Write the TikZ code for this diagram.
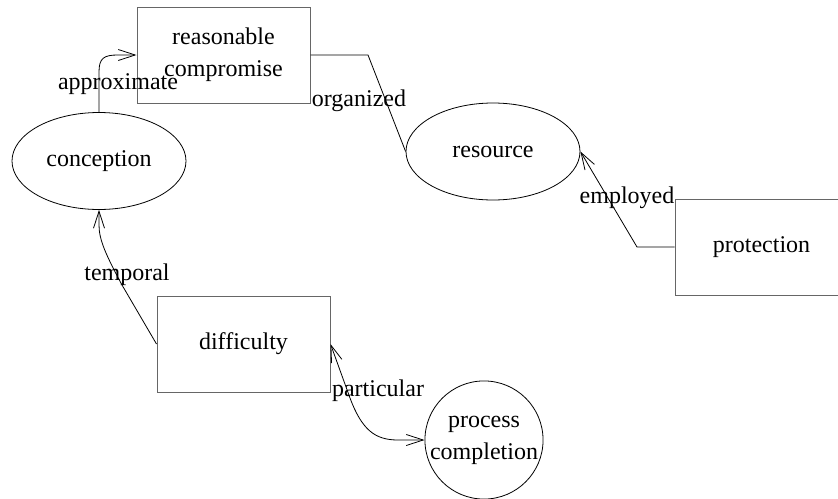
\documentclass[tikz,border=0pt]{standalone}
\usepackage{fontspec}
\setmainfont{Liberation Serif}
\usetikzlibrary{shapes.geometric,arrows.meta}
\begin{document}
\begin{tikzpicture}[x=1pt,y=-1pt,
  every node/.style={font=\fontsize{24}{32}\selectfont, align=center},
  boxnode/.style={draw=black!60, line width=1pt, rectangle, minimum width=173pt, minimum height=96pt, inner sep=0pt},
  ellnode/.style={draw=black, line width=0.8pt, ellipse, minimum width=174pt, minimum height=97pt, inner sep=0pt},
  circnode/.style={draw=black, line width=0.8pt, circle, minimum size=116pt, inner sep=0pt},
  conn/.style={draw=black, line width=0.8pt},
  arr/.style={conn, -{Straight Barb[length=17pt,width=11pt]}},
  darr/.style={conn, {Straight Barb[length=17pt,width=11pt]}-{Straight Barb[length=17pt,width=11pt]}},
  lbl/.style={inner sep=0pt}
]
\useasboundingbox (0,0) rectangle (838,498);
\node[boxnode] (rc) at (223.5,55) {reasonable\\compromise};
\node[ellnode] (conc) at (99,161) {conception};
\node[ellnode] (res) at (493,151.5) {resource};
\node[boxnode] (prot) at (761.5,247) {protection};
\node[boxnode] (diff) at (243.5,344) {difficulty};
\node[circnode] (pc) at (484,440) {process\\completion};

\draw[arr] (conc.north) -- (99,72) .. controls (99,58) and (104,55) .. (118,55) -- (rc.west);
\node[lbl] (l1) at (118,84) {approximate};

\draw[conn] (rc.east) -- (368,55) -- (res.west);
\node[lbl] (l2) at (359,101) {organized};

\draw[arr] (prot.west) -- (637,247) -- (res.east);
\node[lbl] (l3) at (627,198) {employed};

\draw[arr] (diff.west) -- (122,285) .. controls (106,255) and (99,240) .. (99,225) -- (conc.south);
\node[lbl] (l4) at (127,275) {temporal};

\draw[darr] (diff.east) -- (350,398) .. controls (362,430) and (375,440) .. (398,440) -- (pc.west);
\node[lbl] (l5) at (378,391) {particular};
\end{tikzpicture}
\end{document}
